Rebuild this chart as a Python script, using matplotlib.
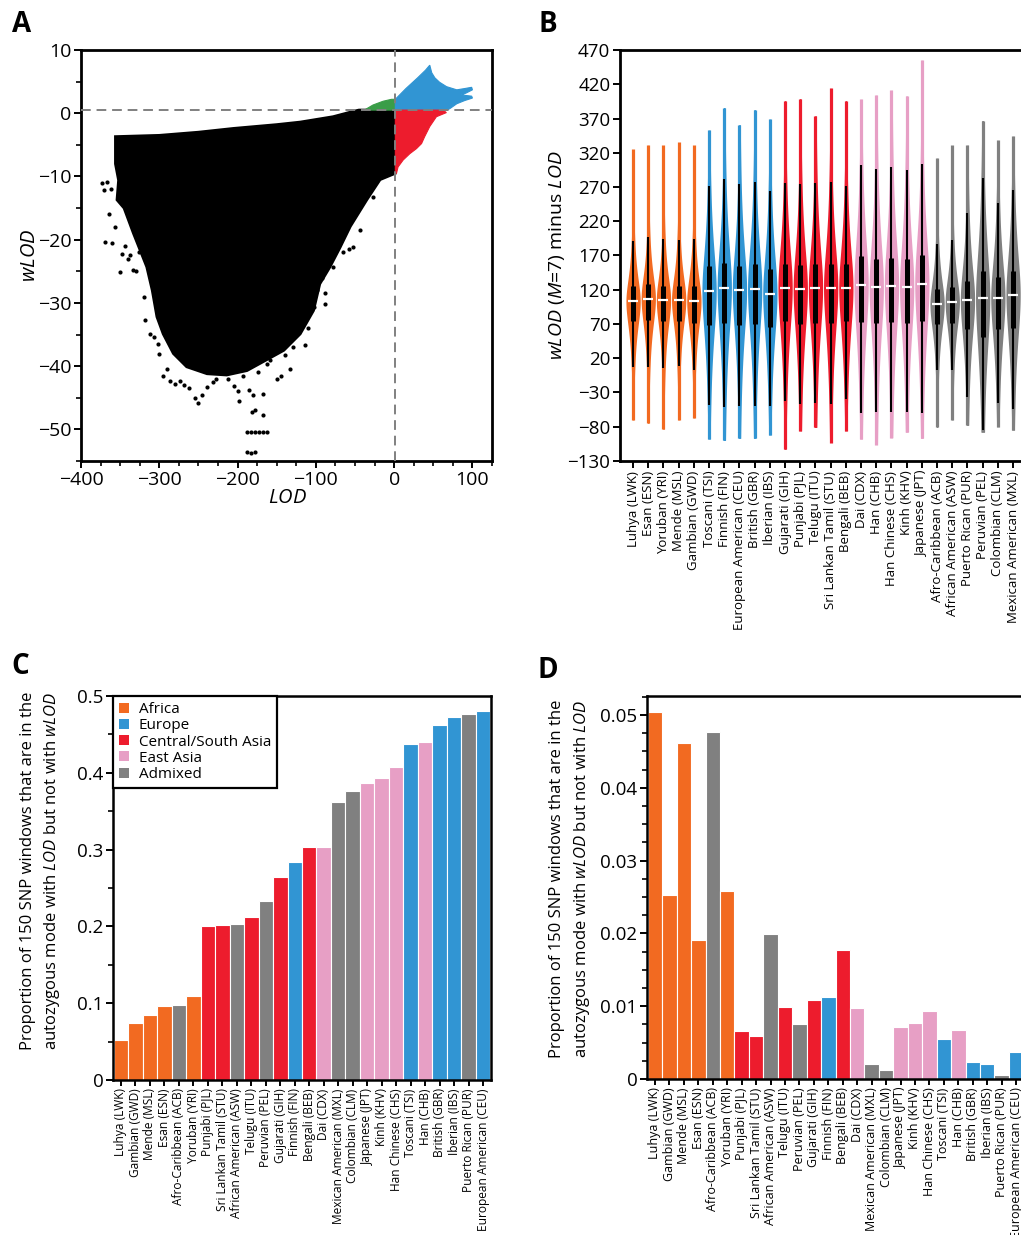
import matplotlib
matplotlib.use('Agg')
import matplotlib.pyplot as plt
import numpy as np
from matplotlib.lines import Line2D
from matplotlib.ticker import MultipleLocator, FixedLocator

plt.rcParams['font.family'] = ['Open Sans', 'DejaVu Sans']
plt.rcParams['mathtext.fontset'] = 'custom'
plt.rcParams['mathtext.rm'] = 'Open Sans'
plt.rcParams['mathtext.it'] = 'Open Sans:italic'
plt.rcParams['axes.linewidth'] = 1.6

ORANGE = '#F26A21'
BLUE = '#3195D3'
RED = '#ED1C2D'
PINK = '#E79FC5'
GRAY = '#808080'
GREEN = '#3A9D48'
region_colors = {'Africa': ORANGE, 'Europe': BLUE, 'Central/South Asia': RED,
                 'East Asia': PINK, 'Admixed': GRAY}

# ---------------- Panel A data (outline of dense point cloud + sparse points) -------------
black_lod = [-356, -300, -250, -205, -150, -120, -78, -52, -45, 1.5, 1.5, -18, -35, -56, -69, -82,
             -95, -103, -120, -141, -163, -188, -214, -239, -265, -282, -295, -303, -309, -316,
             -333, -345, -354, -352, -356, -356]
black_wlod = [-3.7, -3.5, -3.0, -2.4, -1.8, -1.4, -0.55, 0.3, 0.5, 0.5, -9.5, -10.5, -13.7, -17.9,
              -21.2, -24.3, -27.0, -31.2, -34.9, -37.5, -39.0, -40.7, -41.4, -41.2, -40.1, -38.0,
              -34.9, -32.2, -28.0, -24.3, -19.0, -15.0, -13.7, -10.6, -8.0, -3.7]
green_lod = [-38, -27, -14, -3.4, 1.5, 1.5]
green_wlod = [0.5, 1.3, 1.9, 2.2, 2.2, 0.5]
blue_lod = [1.5, 1.5, 15, 30, 40, 45.5, 48, 52, 58, 67, 80, 90, 99, 100, 92, 86, 92, 99, 100, 90,
            80, 72, 68]
blue_wlod = [0.5, 2.2, 3.9, 5.6, 6.8, 7.6, 6.4, 5.6, 4.9, 4.2, 3.7, 3.9, 4.1, 3.7, 3.2, 2.9, 2.8,
             2.7, 2.4, 2.0, 1.5, 0.8, 0.5]
red_lod = [1.5, 62.5, 66.7, 54, 45.5, 39, 35, 28.5, 20, 11.5, 5, 3, 1.5]
red_wlod = [0.5, 0.5, 0.1, -0.55, -2.1, -3.7, -4.8, -5.6, -6.4, -7.4, -8.5, -9.5, -9.5]
sparse_lod = [-373, -371, -367, -369, -360, -348, -350, -333, -322, -318, -312, -307, -295, -286,
              -273, -254, -250, -239, -227, -193, -186, -180, -167, -182, -178, -167, -188, -183,
              -178, -173, -168, -163, -188, -183, -178, -163, -150, -145, -133, -129, -114, -118,
              -103, -88, -88, -78, -52, -58, -65, -44, -27, -362, -340, -302, -262, -212, -200,
              -364, -357, -344, -338, -330, -326, -320, -300, -290, -280, -268, -245, -232, -205,
              -198, -174, -158, -140, -125, -110, -98, -92, -72, -60, -36]
sparse_wlod = [-11.0, -12.2, -10.8, -20.3, -20.6, -22.2, -25.1, -24.8, -19.8, -32.7, -34.9, -35.4,
               -41.5, -42.3, -42.3, -45.1, -45.9, -43.3, -42.0, -41.5, -43.8, -44.6, -44.4, -47.3,
               -47.0, -47.8, -50.4, -50.4, -50.4, -50.4, -50.4, -50.4, -53.6, -53.8, -53.6, -39.6,
               -42.0, -41.5, -40.4, -37.0, -36.7, -33.0, -30.6, -28.5, -30.1, -24.3, -21.1, -21.5,
               -21.9, -18.5, -13.2, -12.0, -23.0, -36.5, -43.5, -42.0, -44.0,
               -16.0, -18.0, -21.0, -22.5, -25.0, -22.0, -29.0, -38.0, -40.5, -42.8, -43.0, -44.5,
               -42.5, -43.2, -45.5, -41.0, -39.0, -38.2, -35.0, -34.0, -28.0, -26.0, -20.5, -17.0,
               -12.5]
lod_threshold = 1.5
wlod_threshold = 0.5

# ---------------- Panel B data ----------------
b_pops = ['Luhya (LWK)', 'Esan (ESN)', 'Yoruban (YRI)', 'Mende (MSL)', 'Gambian (GWD)',
          'Toscani (TSI)', 'Finnish (FIN)', 'European American (CEU)', 'British (GBR)', 'Iberian (IBS)',
          'Gujarati (GIH)', 'Punjabi (PJL)', 'Telugu (ITU)', 'Sri Lankan Tamil (STU)', 'Bengali (BEB)',
          'Dai (CDX)', 'Han (CHB)', 'Han Chinese (CHS)', 'Kinh (KHV)', 'Japanese (JPT)',
          'Afro-Caribbean (ACB)', 'African American (ASW)', 'Puerto Rican (PUR)', 'Peruvian (PEL)',
          'Colombian (CLM)', 'Mexican American (MXL)']
b_region = ['Africa'] * 5 + ['Europe'] * 5 + ['Central/South Asia'] * 5 + ['East Asia'] * 5 + ['Admixed'] * 6
b_min = [-70, -75, -84, -70, -67, -98, -100, -97, -97, -92, -113, -86, -81, -103, -86,
         -98, -106, -96, -88, -97, -81, -70, -78, -88, -80, -85]
b_wlo = [7, 7, 6, 8, 3, -48, -51, -49, -49, -49, -43, -47, -46, -47, -40,
         -60, -59, -58, -58, -60, 3, 3, -36, -85, -46, -54]
b_q1 = [74, 76, 75, 75, 72, 69, 71, 69, 70, 65, 74, 70, 72, 72, 74,
        73, 71, 73, 72, 74, 70, 72, 63, 51, 63, 64]
b_med = [103, 107, 105, 105, 103, 118, 123, 120, 121, 114, 123, 121, 123, 123, 123,
         127, 124, 126, 124, 128, 99, 102, 105, 108, 108, 113]
b_q3 = [125, 128, 126, 126, 125, 154, 159, 155, 158, 150, 158, 156, 158, 158, 157,
        169, 165, 167, 165, 170, 121, 124, 133, 147, 139, 148]
b_whi = [191, 197, 194, 193, 194, 271, 282, 275, 278, 264, 276, 274, 276, 277, 272,
         302, 296, 299, 295, 304, 187, 192, 232, 283, 247, 265]
b_max = [325, 331, 331, 336, 331, 353, 386, 361, 383, 369, 396, 399, 374, 414, 396,
         398, 404, 411, 403, 455, 312, 331, 331, 367, 338, 344]

# ---------------- Panel C data ----------------
c_pops = ['Luhya (LWK)', 'Gambian (GWD)', 'Mende (MSL)', 'Esan (ESN)', 'Afro-Caribbean (ACB)',
          'Yoruban (YRI)', 'Punjabi (PJL)', 'Sri Lankan Tamil (STU)', 'African American (ASW)',
          'Telugu (ITU)', 'Peruvian (PEL)', 'Gujarati (GIH)', 'Finnish (FIN)', 'Bengali (BEB)',
          'Dai (CDX)', 'Mexican American (MXL)', 'Colombian (CLM)', 'Japanese (JPT)', 'Kinh (KHV)',
          'Han Chinese (CHS)', 'Toscani (TSI)', 'Han (CHB)', 'British (GBR)', 'Iberian (IBS)',
          'Puerto Rican (PUR)', 'European American (CEU)']
c_region = ['Africa', 'Africa', 'Africa', 'Africa', 'Admixed', 'Africa', 'Central/South Asia',
            'Central/South Asia', 'Admixed', 'Central/South Asia', 'Admixed', 'Central/South Asia',
            'Europe', 'Central/South Asia', 'East Asia', 'Admixed', 'Admixed', 'East Asia',
            'East Asia', 'East Asia', 'Europe', 'East Asia', 'Europe', 'Europe', 'Admixed', 'Europe']
c_values = [0.052, 0.074, 0.084, 0.096, 0.098, 0.109, 0.200, 0.202, 0.203, 0.212, 0.233, 0.264,
            0.284, 0.303, 0.304, 0.362, 0.376, 0.387, 0.393, 0.407, 0.437, 0.440, 0.462, 0.473,
            0.477, 0.480]

# ---------------- Panel D data ----------------
d_pops = c_pops
d_region = c_region
d_values = [0.0504, 0.0253, 0.0462, 0.0191, 0.0476, 0.0258, 0.0066, 0.0059, 0.0199, 0.0099,
            0.0075, 0.0108, 0.0113, 0.0177, 0.0097, 0.0021, 0.0013, 0.0072, 0.0077, 0.0093,
            0.0055, 0.0067, 0.0024, 0.0021, 0.0006, 0.0037]

W, H = 1021, 1235
fig = plt.figure(figsize=(W / 100, H / 100), dpi=100)


def px_axes(left, top, right, bottom):
    return fig.add_axes([left / W, 1 - bottom / H, (right - left) / W, (bottom - top) / H])


def style_ticks(ax, size):
    ax.tick_params(axis='both', which='major', direction='out', length=5, width=1.4,
                   labelsize=size, pad=2)
    ax.tick_params(axis='both', which='minor', direction='out', length=3.5, width=1.2)


# ---------------- Panel A ----------------
axA = px_axes(81, 50, 492, 461)
axA.fill(black_lod, black_wlod, color='black', lw=2.0, ec='black', zorder=2)
axA.fill(green_lod, green_wlod, color=GREEN, lw=0.8, ec=GREEN, zorder=2)
axA.fill(blue_lod, blue_wlod, color=BLUE, lw=0.8, ec=BLUE, zorder=2)
axA.fill(red_lod, red_wlod, color=RED, lw=0.8, ec=RED, zorder=2)
axA.plot(sparse_lod, sparse_wlod, 'o', ms=3.0, color='black', mew=0, zorder=2)
axA.axvline(lod_threshold, color='#808080', ls=(0, (5, 3)), lw=1.4, zorder=3)
axA.axhline(wlod_threshold, color='#808080', ls=(0, (5, 3)), lw=1.4, zorder=3)
axA.set_xlim(-400, 125)
axA.set_ylim(-55, 10)
axA.xaxis.set_major_locator(FixedLocator([-400, -300, -200, -100, 0, 100]))
axA.xaxis.set_minor_locator(MultipleLocator(25))
axA.yaxis.set_major_locator(MultipleLocator(10))
axA.yaxis.set_minor_locator(MultipleLocator(5))
style_ticks(axA, 14)
for s in axA.spines.values():
    s.set_linewidth(2)
fig.text(30 / W, 1 - 255 / H, r'$\it{wLOD}$', rotation=90, ha='center', va='center', fontsize=14.5)
fig.text(287 / W, 1 - 498 / H, r'$\it{LOD}$', ha='center', va='center', fontsize=14.5)

# ---------------- Panel B ----------------
axB = px_axes(620, 50, 1026, 461)
hw = 0.47
for i in range(len(b_pops)):
    col = region_colors[b_region[i]]
    axB.vlines(i, b_min[i], b_max[i], color=col, lw=2.3, capstyle='butt', zorder=2)
    med = b_med[i]
    Wup = b_whi[i] - med
    Wlo = med - b_wlo[i]
    yy = np.linspace(max(b_min[i], med - 2.5 * Wlo), min(b_max[i], med + 2.5 * Wup), 500)
    d = np.where(yy < med, (med - yy) / Wlo, (yy - med) / Wup)
    w = hw / (1 + (d / 0.575) ** 2)
    axB.fill_betweenx(yy, i - w, i + w, color=col, lw=0, zorder=2)
    axB.vlines(i, b_wlo[i], b_whi[i], color='black', lw=1.5, zorder=3)
    axB.vlines(i, b_q1[i], b_q3[i], color='black', lw=3.6, zorder=3)
    axB.hlines(med, i - 0.33, i + 0.33, color='white', lw=1.6, zorder=4)
axB.set_xlim(-0.86, 25.85)
axB.set_ylim(-130, 470)
axB.yaxis.set_major_locator(FixedLocator(np.arange(-130, 471, 50)))
axB.set_xticks(range(len(b_pops)))
axB.set_xticklabels(b_pops, rotation=90)
style_ticks(axB, 13.5)
axB.tick_params(axis='x', labelsize=9.5)
for s in axB.spines.values():
    s.set_linewidth(2)
fig.text(557 / W, 1 - 255 / H, r'$\it{wLOD}$ ($\it{M}$=7) minus $\it{LOD}$', rotation=90,
         ha='center', va='center', fontsize=14)


# ---------------- Panels C & D ----------------
def bar_panel(ax, values, regions, labels, xsize):
    cols = [region_colors[r] for r in regions]
    ax.bar(range(len(values)), values, width=1.0, color=cols, edgecolor='white', lw=0.8, zorder=2)
    ax.set_xlim(-0.55, len(values) - 0.45)
    ax.set_xticks(range(len(values)))
    ax.set_xticklabels(labels, rotation=90)
    style_ticks(ax, 13.5)
    ax.tick_params(axis='x', labelsize=xsize, length=4)
    for s in ax.spines.values():
        s.set_linewidth(1.8)


axC = px_axes(113, 696, 491, 1080)
bar_panel(axC, c_values, c_region, c_pops, 8.6)
axC.set_ylim(0, 0.5)
axC.yaxis.set_major_locator(MultipleLocator(0.1))
axC.yaxis.set_minor_locator(MultipleLocator(0.05))
axC.yaxis.set_major_formatter(lambda v, p: '0' if abs(v) < 1e-9 else f'{v:.1f}')
handles = [Line2D([], [], marker='s', ls='', color=c, ms=6.5, mew=0) for c in region_colors.values()]
leg = axC.legend(handles, list(region_colors.keys()), loc='upper left', bbox_to_anchor=(0, 1),
                 borderaxespad=0, fancybox=False, edgecolor='black', framealpha=1,
                 fontsize=11, handlelength=0.7, handletextpad=0.6, labelspacing=0.08,
                 borderpad=0.4)
leg.get_frame().set_linewidth(1.6)
fig.text(28 / W, 1 - 692 / H, 'Proportion of 150 SNP windows that are in the', rotation=90,
         ha='center', va='top', fontsize=12)
fig.text(52 / W, 1 - 692 / H, r'autozygous mode with $\it{LOD}$ but not with $\it{wLOD}$',
         rotation=90, ha='center', va='top', fontsize=12)

axD = px_axes(647, 696, 1024, 1079)
bar_panel(axD, d_values, d_region, d_pops, 9)
axD.set_ylim(0, 0.0526)
axD.yaxis.set_major_locator(MultipleLocator(0.01))
axD.yaxis.set_minor_locator(MultipleLocator(0.0025))
axD.yaxis.set_major_formatter(lambda v, p: '0' if abs(v) < 1e-9 else f'{v:.2f}')
fig.text(557 / W, 1 - 700 / H, 'Proportion of 150 SNP windows that are in the', rotation=90,
         ha='center', va='top', fontsize=12)
fig.text(582 / W, 1 - 700 / H, r'autozygous mode with $\it{wLOD}$ but not with $\it{LOD}$',
         rotation=90, ha='center', va='top', fontsize=12)

# panel letters
for lab, x, y in [('A', 22, 24), ('B', 548, 24), ('C', 20, 667), ('D', 548, 670)]:
    fig.text(x / W, 1 - y / H, lab, fontsize=20, fontweight='bold', ha='center', va='center')

fig.savefig('out.png', dpi=100)
